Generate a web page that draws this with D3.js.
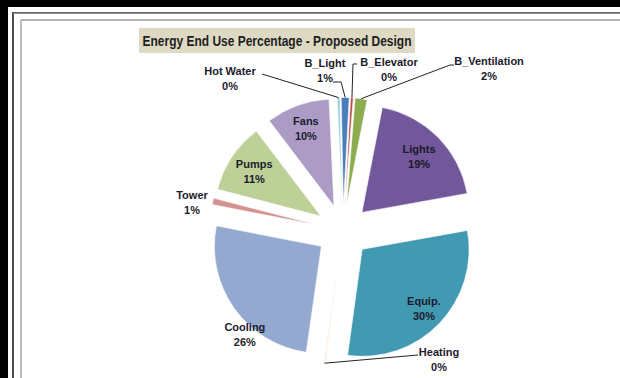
<!DOCTYPE html>
<html>
<head>
<meta charset="utf-8">
<script src="https://cdn.jsdelivr.net/npm/d3@7"></script>
<style>
  body { margin: 0; background: #000; }
  svg { display: block; }
</style>
</head>
<body>
<div id="chart"></div>
<script>
// end uses, clockwise from 12 o'clock
const names = ["B_Light", "B_Elevator", "B_Ventilation", "Lights", "Equip.", "Heating",
               "Cooling", "Tower", "Pumps", "Fans", "Hot Water"];
const shares = [1.2, 0.4, 1.8, 19.1, 30.0, 0.1, 25.8, 1.0, 10.6, 9.6, 0.4];
const colors = ["#4a7ebb", "#be4b48", "#8cac4f", "#72579a", "#4299b2", "#f79646",
                "#94a9d0", "#d49290", "#bdd097", "#ab9bc5", "#93cddd"];

const width = 620;
const height = 378;
const cx = 343, cy = 231;
const radius = 107;
const explode = 26.5;
const startDeg = -1.2;

// label placement: inside ones by polar factor, outside ones by anchor + leader line
const inside = {
  "Lights": { r: 0.75 },
  "Equip.": { r: 0.8 },
  "Pumps": { r: 0.75 },
  "Fans": { r: 0.77 },
  "Cooling": { r: 1.09, deg: 221 }
}
const outside = {
  "Hot Water":     { x: 230, y: 71,  line: [[262, 74]] },
  "B_Light":       { x: 325, y: 63,  line: [[333, 82], [341, 82]] },
  "B_Elevator":    { x: 389, y: 62,  line: [[357, 64], [353, 64]] },
  "B_Ventilation": { x: 489, y: 61,  line: [[454, 65], [450, 65]] },
  "Tower":         { x: 192, y: 195, line: null },
  "Heating":       { x: 439, y: 352, line: [[418, 355]] }
}

const total = d3.sum(shares);
const pct = v => Math.round(v / total * 100) + "%";
const rad = d => d * Math.PI / 180;

const svg = d3.select("#chart")
              .append("svg")
              .attr("width", width)
              .attr("height", height)

// window frame
svg.append("rect").attr("width", width).attr("height", height).attr("fill", "#000")
svg.append("rect").attr("x", 8).attr("y", 7).attr("width", width).attr("height", height).attr("fill", "#fff")
svg.append("line").attr("x1", 13).attr("y1", 12).attr("x2", 13).attr("y2", height)
   .attr("stroke", "#222").attr("stroke-width", 1.6)
svg.append("line").attr("x1", 13).attr("y1", 12.9).attr("x2", width).attr("y2", 12.9)
   .attr("stroke", "#686868").attr("stroke-width", 1.8)
svg.append("line").attr("x1", 21).attr("y1", 19.5).attr("x2", 21).attr("y2", height)
   .attr("stroke", "#b4b4b4").attr("stroke-width", 1.8)
svg.append("line").attr("x1", 21).attr("y1", 20).attr("x2", width).attr("y2", 20)
   .attr("stroke", "#b4b4b4").attr("stroke-width", 1.8)

// title
svg.append("rect")
   .attr("x", 139).attr("y", 28).attr("width", 276).attr("height", 25)
   .attr("fill", "#ddd9c3")
svg.append("text")
   .attr("x", 277).attr("y", 46)
   .attr("text-anchor", "middle")
   .attr("font-family", "'Liberation Sans', Arial, sans-serif")
   .attr("font-weight", "bold")
   .attr("font-size", "14.5px")
   .attr("textLength", 269)
   .attr("lengthAdjust", "spacingAndGlyphs")
   .attr("fill", "#1e1e1e")
   .text("Energy End Use Percentage - Proposed Design")

const pie = d3.pie()
              .sort(null)
              .value(d => d)
              .startAngle(rad(startDeg))
              .endAngle(rad(360 + startDeg))
const arc = d3.arc().innerRadius(0).outerRadius(radius)

const slices = pie(shares).map((a, i) => {
  const mid = (a.startAngle + a.endAngle) / 2;
  return {
    arc: a, name: names[i], value: shares[i], color: colors[i], mid: mid,
    ox: cx + explode * Math.sin(mid),
    oy: cy - explode * Math.cos(mid)
  }
})

const g = svg.selectAll("g.slice")
             .data(slices)
             .enter()
             .append("g")
             .attr("class", "slice")
             .attr("transform", d => `translate(${d.ox},${d.oy})`)

g.append("path")
 .attr("d", d => arc(d.arc))
 .attr("fill", d => d.color)
 .attr("stroke", "#fff")
 .attr("stroke-width", 0.6)

const font = "'Liberation Sans', Arial, sans-serif";

// leader lines
const line = d3.line();
slices.filter(d => outside[d.name] && outside[d.name].line).forEach(d => {
  const end = [d.ox + radius * Math.sin(d.mid), d.oy - radius * Math.cos(d.mid)];
  svg.append("path")
     .attr("d", line(outside[d.name].line.concat([end])))
     .attr("fill", "none")
     .attr("stroke", "#222")
     .attr("stroke-width", 1)
})

function addLabel(x, y, d) {
  const t = svg.append("text")
               .attr("text-anchor", "middle")
               .attr("font-family", font)
               .attr("font-weight", "bold")
               .attr("font-size", "11px")
               .attr("fill", "#1b1b2b")
  t.append("tspan").attr("x", x).attr("y", y + 4).text(d.name)
  t.append("tspan").attr("x", x).attr("y", y + 19).text(pct(d.value))
}

slices.forEach(d => {
  if (inside[d.name]) {
    const p = inside[d.name];
    const a = p.deg != null ? rad(p.deg) : d.mid;
    const x = d.ox + p.r * radius * Math.sin(a);
    const y = d.oy - p.r * radius * Math.cos(a);
    addLabel(x, y - 7.5, d)
  } else {
    const p = outside[d.name];
    addLabel(p.x, p.y, d)
  }
})
</script>
</body>
</html>
